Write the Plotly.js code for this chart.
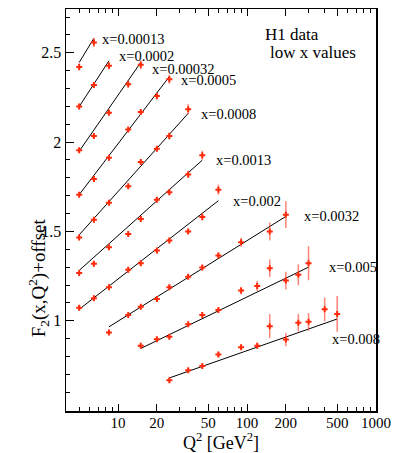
<!DOCTYPE html>
<html><head><meta charset="utf-8">
<script src="https://cdn.plot.ly/plotly-3.0.1.min.js"></script>
<style>html,body{margin:0;padding:0;background:#fff;}#chart{width:394px;height:453px;}</style>
</head><body><div id="chart"></div>
<script>
// ---- data ----
const binLabels = ['x=0.00013','x=0.0002','x=0.00032','x=0.0005','x=0.0008','x=0.0013','x=0.002','x=0.0032','x=0.005','x=0.008'];

const q2_b1 = [5, 6.5];
const f2_b1 = [2.421, 2.558];
const er_b1 = [0.02, 0.025];

const q2_b2 = [5, 6.5, 8.5];
const f2_b2 = [2.199, 2.319, 2.427];
const er_b2 = [0.015, 0.015, 0.02];

const q2_b3 = [5, 6.5, 8.5, 12, 15];
const f2_b3 = [1.955, 2.034, 2.165, 2.324, 2.433];
const er_b3 = [0.015, 0.015, 0.015, 0.02, 0.025];

const q2_b4 = [5, 6.5, 8.5, 12, 15, 20, 25];
const f2_b4 = [1.706, 1.794, 1.912, 2.070, 2.169, 2.258, 2.352];
const er_b4 = [0.015, 0.015, 0.015, 0.015, 0.015, 0.02, 0.025];

const q2_b5 = [5, 6.5, 8.5, 12, 15, 20, 25, 35];
const f2_b5 = [1.466, 1.566, 1.660, 1.753, 1.888, 1.963, 2.034, 2.184];
const er_b5 = [0.015, 0.015, 0.015, 0.015, 0.015, 0.015, 0.02, 0.028];

const q2_b6 = [5, 6.5, 8.5, 12, 15, 20, 25, 35, 45];
const f2_b6 = [1.268, 1.319, 1.412, 1.485, 1.570, 1.678, 1.719, 1.819, 1.927];
const er_b6 = [0.015, 0.015, 0.015, 0.015, 0.015, 0.015, 0.015, 0.02, 0.025];

const q2_b7 = [5, 6.5, 8.5, 12, 15, 20, 25, 35, 45, 60];
const f2_b7 = [1.073, 1.126, 1.188, 1.285, 1.322, 1.393, 1.449, 1.500, 1.581, 1.734];
const er_b7 = [0.015, 0.015, 0.015, 0.015, 0.015, 0.015, 0.015, 0.015, 0.02, 0.028];

const q2_b8 = [8.5, 12, 15, 20, 25, 35, 45, 60, 90, 150, 200];
const f2_b8 = [0.935, 1.032, 1.079, 1.122, 1.188, 1.247, 1.298, 1.365, 1.440, 1.500, 1.594];
const er_b8 = [0.012, 0.015, 0.015, 0.015, 0.015, 0.015, 0.015, 0.018, 0.025, 0.05, 0.075];

const q2_b9 = [15, 20, 25, 35, 45, 60, 90, 120, 150, 200, 250, 300];
const f2_b9 = [0.860, 0.897, 0.910, 0.980, 1.032, 1.060, 1.169, 1.195, 1.294, 1.225, 1.257, 1.322];
const er_b9 = [0.012, 0.012, 0.012, 0.015, 0.015, 0.015, 0.02, 0.028, 0.049, 0.05, 0.058, 0.095];

const q2_b10 = [25, 35, 45, 60, 90, 120, 150, 200, 250, 300, 400, 500];
const f2_b10 = [0.667, 0.723, 0.747, 0.811, 0.852, 0.860, 0.970, 0.895, 0.989, 0.994, 1.064, 1.038];
const er_b10 = [0.012, 0.012, 0.012, 0.015, 0.015, 0.015, 0.067, 0.037, 0.049, 0.049, 0.066, 0.10];

// QCD fit curves (start / end of each drawn line)
const fitQ2_b1 = [5, 6.5],   fitF2_b1 = [2.446, 2.581];
const fitQ2_b2 = [5, 8.5],   fitF2_b2 = [2.199, 2.455];
const fitQ2_b3 = [5, 15],    fitF2_b3 = [1.949, 2.446];
const fitQ2_b4 = [5, 25],    fitF2_b4 = [1.706, 2.367];
const fitQ2_b5 = [5, 35],    fitF2_b5 = [1.481, 2.161];
const fitQ2_b6 = [5, 45],    fitF2_b6 = [1.282, 1.899];
const fitQ2_b7 = [5, 60],    fitF2_b7 = [1.064, 1.672];
const fitQ2_b8 = [8.5, 200], fitF2_b8 = [0.966, 1.584];
const fitQ2_b9 = [15, 300],  fitF2_b9 = [0.845, 1.300];
const fitQ2_b10 = [25, 500], fitF2_b10 = [0.680, 1.010];

const xTickVals = [10, 20, 50, 100, 200, 500, 1000];
const xTickText = ['10', '20', '50', '100', '200', '500', '1000'];
const yTickVals = [1, 1.5, 2, 2.5];
const yTickText = ['1', '1.5', '2', '2.5'];

// ---- build ----
const bins = [
  [q2_b1, f2_b1, er_b1, fitQ2_b1, fitF2_b1],
  [q2_b2, f2_b2, er_b2, fitQ2_b2, fitF2_b2],
  [q2_b3, f2_b3, er_b3, fitQ2_b3, fitF2_b3],
  [q2_b4, f2_b4, er_b4, fitQ2_b4, fitF2_b4],
  [q2_b5, f2_b5, er_b5, fitQ2_b5, fitF2_b5],
  [q2_b6, f2_b6, er_b6, fitQ2_b6, fitF2_b6],
  [q2_b7, f2_b7, er_b7, fitQ2_b7, fitF2_b7],
  [q2_b8, f2_b8, er_b8, fitQ2_b8, fitF2_b8],
  [q2_b9, f2_b9, er_b9, fitQ2_b9, fitF2_b9],
  [q2_b10, f2_b10, er_b10, fitQ2_b10, fitF2_b10]
];

// label placement relative to end of each fit line: [pixel shift x, label y value]
const labelPlace = [
  [6, 2.577], [8, 2.483], [9, 2.408], [10, 2.350], [11, 2.156],
  [12, 1.902], [13, 1.669], [16, 1.584], [18, 1.300], [-7, 0.900]
];

const serif = 'Liberation Serif, Times New Roman, serif';
const traces = [];
const annotations = [];
bins.forEach((b, i) => {
  traces.push({
    x: b[3], y: b[4], mode: 'lines', type: 'scatter',
    line: {color: '#000', width: 1}, hoverinfo: 'skip', showlegend: false
  });
  traces.push({
    x: b[0], y: b[1], mode: 'markers', type: 'scatter', showlegend: false,
    name: binLabels[i],
    marker: {symbol: 'cross', size: 5, color: '#ff2a0a', line: {width: 0}},
    error_y: {type: 'data', array: b[2], visible: true, color: 'rgba(255,50,30,0.6)', thickness: 1.5, width: 0}
  });
  const endQ = b[3][b[3].length - 1];
  annotations.push({
    xref: 'x', yref: 'y', x: Math.log10(endQ), y: labelPlace[i][1],
    xshift: labelPlace[i][0], text: binLabels[i], showarrow: false,
    xanchor: 'left', yanchor: 'middle',
    font: {family: serif, size: 14.5, color: '#000'}
  });
});
annotations.push({xref: 'paper', yref: 'y', x: 0.637, y: 2.605, text: 'H1 data', showarrow: false,
  xanchor: 'left', yanchor: 'middle', font: {family: serif, size: 17, color: '#000'}});
annotations.push({xref: 'paper', yref: 'y', x: 0.652, y: 2.503, text: 'low x values', showarrow: false,
  xanchor: 'left', yanchor: 'middle', font: {family: serif, size: 17, color: '#000'}});
// y-axis title
annotations.push({xref: 'paper', yref: 'paper', x: 0, y: 0.33, xshift: -28, textangle: -90,
  text: 'F<sub>2</sub>(x,Q<sup>2</sup>)+offset', showarrow: false,
  xanchor: 'center', yanchor: 'middle', font: {family: serif, size: 19, color: '#000'}});

const layout = {
  width: 394, height: 453,
  margin: {l: 66, r: 18, t: 9, b: 42},
  paper_bgcolor: '#fff', plot_bgcolor: '#fff',
  font: {family: serif, color: '#000'},
  showlegend: false,
  xaxis: {
    type: 'log', range: [Math.log10(3.95), 3],
    tickmode: 'array', tickvals: xTickVals, ticktext: xTickText,
    ticks: 'inside', ticklen: 7, tickwidth: 1, tickcolor: '#000',
    ticklabelstandoff: -3,
    minor: {tickmode: 'array', tickvals: [4,5,6,7,8,9,30,40,60,70,80,90,300,400,600,700,800,900], ticks: 'inside', ticklen: 4, tickcolor: '#000', showgrid: false},
    showline: true, linecolor: '#000', linewidth: 1.5, mirror: 'ticks',
    showgrid: false, zeroline: false,
    tickfont: {family: serif, size: 15, color: '#000'},
    title: {text: 'Q<sup>2</sup> [GeV<sup>2</sup>]', font: {family: serif, size: 18, color: '#000'}, standoff: 3}
  },
  yaxis: {
    range: [0.495, 2.745],
    tickmode: 'array', tickvals: yTickVals, ticktext: yTickText,
    ticks: 'inside', ticklen: 8, tickwidth: 1, tickcolor: '#000',
    minor: {dtick: 0.1, tick0: 0, ticks: 'inside', ticklen: 4, tickcolor: '#000', showgrid: false},
    showline: true, linecolor: '#000', linewidth: 1.5, mirror: true,
    showgrid: false, zeroline: false,
    tickfont: {family: serif, size: 16, color: '#000'}
  },
  annotations: annotations
};

Plotly.newPlot('chart', traces, layout, {displayModeBar: false, staticPlot: true});
</script>
</body></html>
